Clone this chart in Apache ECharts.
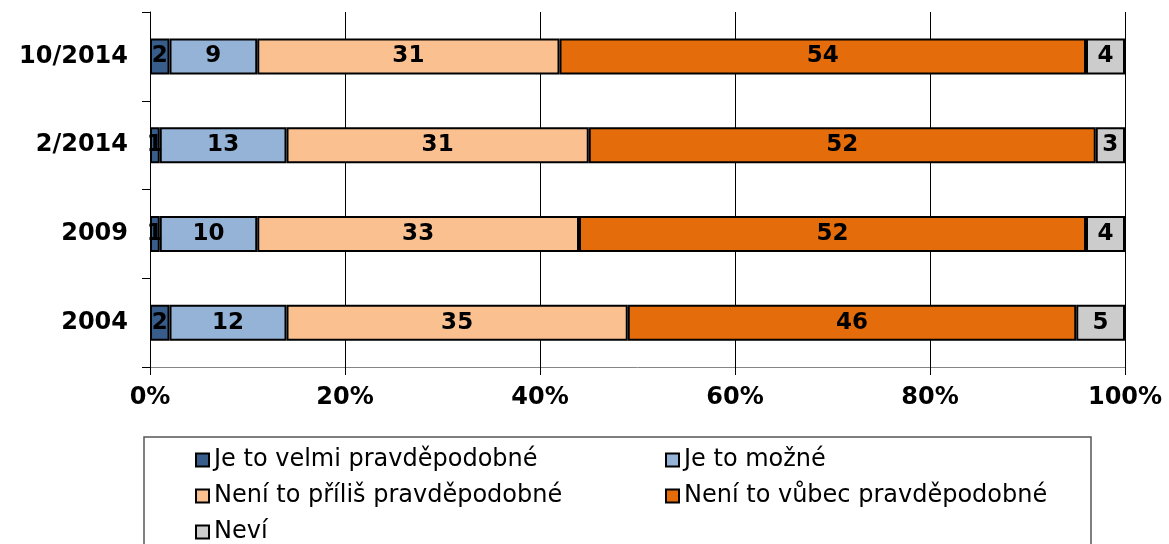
<!DOCTYPE html>
<html><head><meta charset="utf-8">
<script src="https://cdn.jsdelivr.net/npm/echarts@6/dist/echarts.min.js"></script>
<style>html,body{margin:0;padding:0;background:#fff}#c{width:1169px;height:544px}</style>
</head><body><div id="c"></div>
<script>
const categories = ['2004', '2009', '2/2014', '10/2014'];
const seriesNames = ['Je to velmi pravděpodobné', 'Je to možné', 'Není to příliš pravděpodobné', 'Není to vůbec pravděpodobné', 'Neví'];
const velmi = [2, 1, 1, 2];
const mozne = [12, 10, 13, 9];
const prilis = [35, 33, 31, 31];
const vubec = [46, 52, 52, 54];
const nevi = [5, 4, 3, 4];
const colors = ['#385D8A', '#95B3D7', '#FAC090', '#E46C0A', '#CCCCCC'];
const xTicks = [0, 20, 40, 60, 80, 100];

const values = [velmi, mozne, prilis, vubec, nevi];
const font = 'DejaVu Sans';
// legend slots: [left, top] per series
const legendPos = [[190, 443], [660, 443], [190, 479], [660, 479], [190, 515]];
const chart = echarts.init(document.getElementById('c'), null, {renderer: 'canvas'});
chart.setOption({
  animation: false,
  textStyle: {fontFamily: font},
  grid: {left: 150, right: 44, top: 12, bottom: 177},
  xAxis: {
    type: 'value', min: xTicks[0], max: xTicks[xTicks.length - 1], interval: 20,
    axisLine: {show: true, lineStyle: {color: '#868686', width: 1}},
    axisTick: {show: true, length: 8, lineStyle: {color: '#000'}},
    splitLine: {show: true, lineStyle: {color: '#000', width: 1}},
    axisLabel: {formatter: '{value}%', fontSize: 24, fontWeight: 'bold', color: '#000', margin: 19, fontFamily: font}
  },
  yAxis: {
    type: 'category', data: categories,
    axisLine: {show: true, lineStyle: {color: '#000', width: 1}},
    axisTick: {show: true, length: 8, lineStyle: {color: '#000'}},
    axisLabel: {fontSize: 24, fontWeight: 'bold', color: '#000', margin: 22, fontFamily: font}
  },
  graphic: [{
    type: 'rect', shape: {x: 144, y: 437, width: 947, height: 130},
    style: {fill: 'none', stroke: '#555', lineWidth: 1.5}, silent: true
  }],
  legend: seriesNames.map((n, i) => ({
    data: [n], left: legendPos[i][0], top: legendPos[i][1],
    itemWidth: 13, itemHeight: 13, icon: 'rect',
    textStyle: {fontSize: 24, color: '#000', fontFamily: font}
  })),
  series: seriesNames.map((n, i) => ({
    name: n, type: 'bar', stack: 'all', barWidth: 36, data: values[i],
    itemStyle: {color: colors[i], borderColor: '#000', borderWidth: 2},
    label: {show: true, position: 'inside', color: '#000', fontWeight: 'bold', fontSize: 23, fontFamily: font}
  }))
});
</script></body></html>
